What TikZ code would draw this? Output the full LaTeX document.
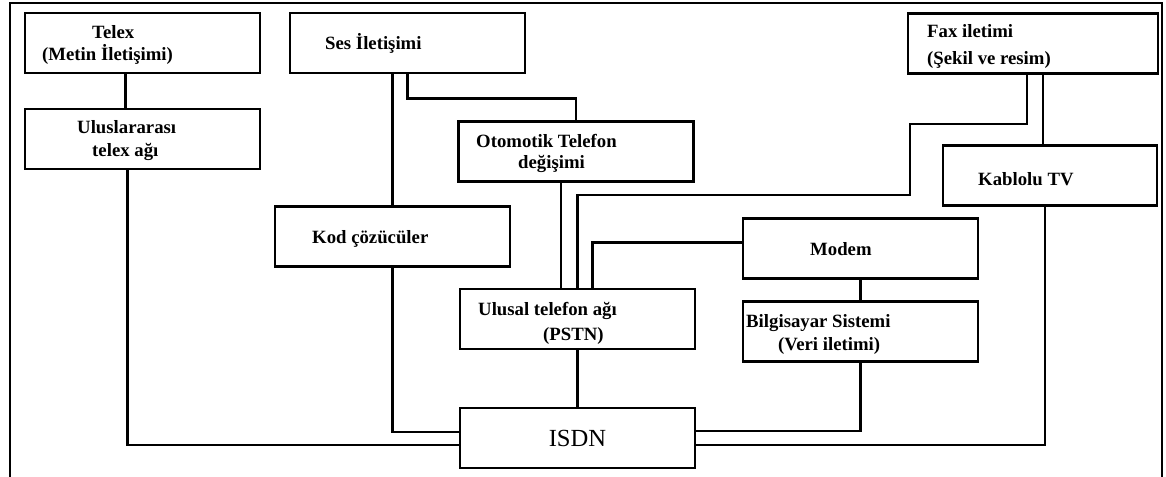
\documentclass[tikz,border=0pt]{standalone}
\usepackage{fontspec}
\setmainfont{Liberation Serif}
\usetikzlibrary{calc}
\tikzset{
  box/.style={draw, line width=2.4pt, minimum width=7.05cm, minimum height=1.8cm, inner sep=0pt},
  lbl/.style={anchor=base west, inner sep=0pt, font=\fontsize{16}{19}\selectfont\bfseries},
  link/.style={line width=2.2pt},
}

\begin{document}
\begin{tikzpicture}[x=0.03cm, y=-0.03cm]
    \useasboundingbox (0,0) rectangle (1166,477);
    % Draw frame
    \draw[link] (10,477) -- (10,3) -- (1162,3) -- (1162,477);

    % Draw boxes
    \node[box] (telex) at (142.5,43) {};
    \node[box] (ulus) at (142.5,139) {};
    \node[box] (ses) at (407.5,43) {};
    \node[box] (oto) at (576,151.5) {};
    \node[box, minimum width=7.5cm] (fax) at (1033,43.5) {};
    \node[box, minimum width=6.42cm] (kablo) at (1050,175.5) {};
    \node[box] (kod) at (392.5,236.5) {};
    \node[box] (ulusal) at (577.5,319) {};
    \node[box, font=\fontsize{21}{25}\selectfont] (isdn) at (577.5,438) {ISDN};
    \node[box] (modem) at (860.5,248.5) {};
    \node[box] (bilg) at (860.5,331.5) {};

    % Label boxes
    \node[lbl] (telexA) at (92,38) {Telex};
    \node[lbl] (telexB) at (42,60) {(Metin İletişimi)};
    \node[lbl] (ulusA) at (77,133) {Uluslararası};
    \node[lbl] (ulusB) at (92,156) {telex ağı};
    \node[lbl] (sesA) at (325,50) {Ses İletişimi};
    \node[lbl] (otoA) at (476,147) {Otomotik Telefon};
    \node[lbl] (otoB) at (518,168) {değişimi};
    \node[lbl] (faxA) at (927,37) {Fax iletimi};
    \node[lbl] (faxB) at (927,64) {(Şekil ve resim)};
    \node[lbl] (kabloA) at (978,185) {Kablolu TV};
    \node[lbl] (kodA) at (312,243) {Kod çözücüler};
    \node[lbl] (ulusalA) at (478,315) {Ulusal telefon ağı};
    \node[lbl] (ulusalB) at (543,340) {(PSTN)};
    \node[lbl] (modemA) at (810,255) {Modem};
    \node[lbl] (bilgA) at (746,327) {Bilgisayar Sistemi};
    \node[lbl] (bilgB) at (778,350) {(Veri iletimi)};

    % Draw connections
    \draw[link] ($(telex.south)+(-17,0)$) coordinate (t1) -- (t1 |- ulus.north);
    \draw[link] ($(ulus.south)+(-15,0)$) |- ($(isdn.west)+(0,7)$);
    \draw[link] (kod.north |- ses.south) -- (kod.north);
    \draw[link] (ses.south) -- ++(0,24) -| (oto.north);
    \draw[link] (kod.south) |- ($(isdn.west)+(0,-6)$);
    \draw[link] ($(oto.south)+(-15,0)$) coordinate (o1) -- (o1 |- ulusal.north);
    \draw[link] ($(fax.south)+(-6,0)$) -- ++(0,49) -- ++(-117,0) -- ++(0,71) -| (ulusal.north);
    \draw[link] ($(fax.south)+(10,0)$) coordinate (f1) -- (f1 |- kablo.north);
    \draw[link] ($(kablo.south)+(-5,0)$) |- ($(isdn.east)+(0,7)$);
    \draw[link] ($(modem.west)+(0,-6)$) -| ($(ulusal.north)+(15,0)$);
    \draw[link] (modem.south) -- (bilg.north);
    \draw[link] (bilg.south) |- ($(isdn.east)+(0,-7)$);
    \draw[link] (ulusal.south) -- (isdn.north);
\end{tikzpicture}
\end{document}
